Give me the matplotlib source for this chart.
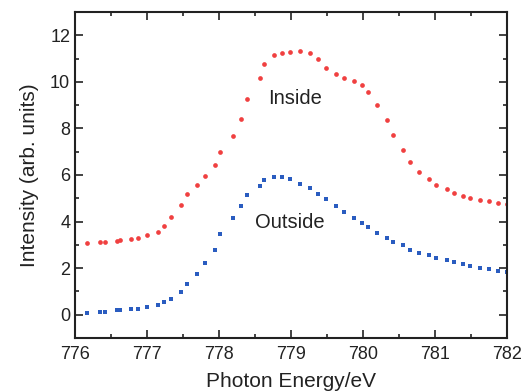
import matplotlib
matplotlib.use("Agg")
import matplotlib.pyplot as plt
from matplotlib.ticker import MultipleLocator

plt.rcParams['font.family'] = ['Liberation Sans', 'DejaVu Sans']

energy = [776.17, 776.35, 776.41, 776.58, 776.63, 776.78, 776.87, 777.00, 777.15, 777.24,
          777.33, 777.47, 777.56, 777.70, 777.80, 777.94, 778.02, 778.19, 778.30, 778.39,
          778.57, 778.62, 778.77, 778.88, 778.99, 779.13, 779.26, 779.37, 779.49, 779.63,
          779.73, 779.87, 779.99, 780.07, 780.19, 780.33, 780.42, 780.56, 780.65, 780.78,
          780.91, 781.02, 781.16, 781.27, 781.39, 781.49, 781.62, 781.75, 781.87, 782.00]

inside = [3.10, 3.13, 3.13, 3.18, 3.21, 3.26, 3.31, 3.43, 3.57, 3.83,
          4.20, 4.71, 5.17, 5.57, 5.94, 6.42, 6.99, 7.69, 8.40, 9.26,
          10.15, 10.76, 11.14, 11.25, 11.29, 11.32, 11.22, 10.96, 10.61, 10.32,
          10.16, 10.03, 9.86, 9.56, 8.99, 8.35, 7.72, 7.09, 6.57, 6.12,
          5.82, 5.57, 5.38, 5.21, 5.09, 5.01, 4.92, 4.87, 4.79, 4.74]

outside = [0.09, 0.12, 0.12, 0.20, 0.21, 0.23, 0.26, 0.31, 0.43, 0.55,
           0.69, 0.97, 1.30, 1.73, 2.23, 2.76, 3.46, 4.15, 4.66, 5.13,
           5.54, 5.77, 5.92, 5.93, 5.82, 5.63, 5.43, 5.20, 4.96, 4.67,
           4.41, 4.14, 3.94, 3.75, 3.51, 3.29, 3.14, 2.98, 2.78, 2.66,
           2.55, 2.45, 2.34, 2.27, 2.18, 2.11, 2.02, 1.98, 1.87, 1.82]

fig = plt.figure(figsize=(5.23, 3.92), dpi=100)
ax = fig.add_axes([0.1434, 0.1378, 0.8260, 0.8316])

ax.plot(energy, inside, linestyle='none', marker='o', markersize=3.4,
        color='#f04040', markeredgewidth=0)
ax.plot(energy, outside, linestyle='none', marker='s', markersize=3.2,
        color='#2a5cc0', markeredgewidth=0)

ax.text(779.05, 9.3, 'Inside', fontsize=14.5, ha='center', va='center', color='#222222')
ax.text(778.99, 3.94, 'Outside', fontsize=14.5, ha='center', va='center', color='#222222')

ax.set_xlim(776, 782)
ax.set_ylim(-1, 13)
ax.xaxis.set_major_locator(MultipleLocator(1))
ax.xaxis.set_minor_locator(MultipleLocator(0.5))
ax.yaxis.set_major_locator(MultipleLocator(2))
ax.yaxis.set_minor_locator(MultipleLocator(1))
ax.tick_params(which='both', direction='in', top=True, right=True, width=1.2,
               labelsize=13, colors='#222222')
ax.tick_params(which='major', length=6)
ax.tick_params(which='minor', length=3)
ax.tick_params(axis='x', pad=6)
for s in ax.spines.values():
    s.set_linewidth(1.5)
    s.set_color('#222222')

ax.set_xlabel('Photon Energy/eV', fontsize=15, color='#222222', labelpad=6)
ax.set_ylabel('Intensity (arb. units)', fontsize=15, color='#222222', labelpad=8)

fig.savefig('out.png', dpi=100)
